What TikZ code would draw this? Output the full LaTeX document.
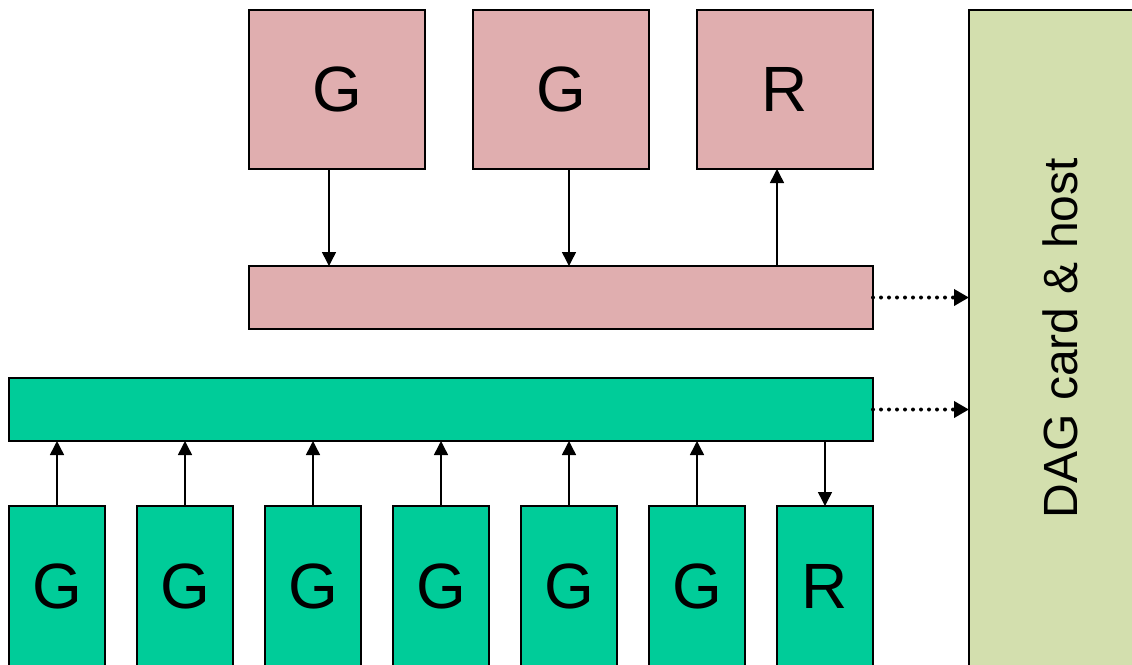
\documentclass[tikz,border=0pt]{standalone}
\usepackage{fontspec}
\setmainfont{Liberation Sans}
\usetikzlibrary{arrows.meta}
\definecolor{pinkc}{HTML}{E0AEAF}
\definecolor{greenc}{HTML}{00CC99}
\definecolor{dagc}{HTML}{D3DFAE}
\begin{document}
\begin{tikzpicture}[x=0.5pt,y=-0.5pt,
  box/.style={draw=black, line width=1pt, inner sep=0pt, outer sep=0pt, anchor=north west, font=\fontsize{32}{38}\selectfont},
  topbox/.style={box, fill=pinkc, minimum width=88pt, minimum height=79.5pt},
  botbox/.style={box, fill=greenc, minimum width=48pt, minimum height=80.5pt},
  arr/.style={line width=0.75pt, -{Triangle[length=7pt,width=7pt]}},
  dotarr/.style={line width=2pt, line cap=round, dash pattern=on 0pt off 4pt, -{Triangle[length=7.5pt,width=8pt]}, shorten >=0pt}
]
\useasboundingbox (0,0) rectangle (1132,665);
\clip (0,0) rectangle (1132,665);
% top row
\node[topbox] (g1) at (249,10) {G};
\node[topbox] (g2) at (473,10) {G};
\node[topbox] (r1) at (697,10) {R};
\node[box, fill=pinkc, minimum width=312pt, minimum height=31.5pt] (top) at (249,266) {};
% green bar
\node[box, fill=greenc, minimum width=432pt, minimum height=31.5pt] (bot) at (9,378) {};
% bottom row
\node[botbox] (b1) at (9,506) {G};
\node[botbox] (b2) at (137,506) {G};
\node[botbox] (b3) at (265,506) {G};
\node[botbox] (b4) at (393,506) {G};
\node[botbox] (b5) at (521,506) {G};
\node[botbox] (b6) at (649,506) {G};
\node[botbox] (b7) at (777,506) {R};
% DAG
\node[draw=black, line width=1pt, fill=dagc, inner sep=0pt, outer sep=0pt, rotate=90, minimum width=328pt, minimum height=91.5pt, font=\fontsize{24}{29}\selectfont] (dag) at (1060.5,338) {DAG card \& host};
% top arrows
\draw[arr] ([xshift=-4pt]g1.south) -- ([xshift=-4pt]g1.south |- top.north);
\draw[arr] ([xshift=4pt]g2.south) -- ([xshift=4pt]g2.south |- top.north);
\draw[arr] ([xshift=-4pt]r1.south |- top.north) -- ([xshift=-4pt]r1.south);
% bottom arrows
\foreach \b in {b1,b2,b3,b4,b5,b6}
  \draw[arr] (\b.north) -- (\b.north |- bot.south);
\draw[arr] (b7.north |- bot.south) -- (b7.north);
% dotted
\draw[dotarr] (top.east) -- (top.east -| dag.north);
\draw[dotarr] (bot.east) -- (bot.east -| dag.north);
\end{tikzpicture}
\end{document}
